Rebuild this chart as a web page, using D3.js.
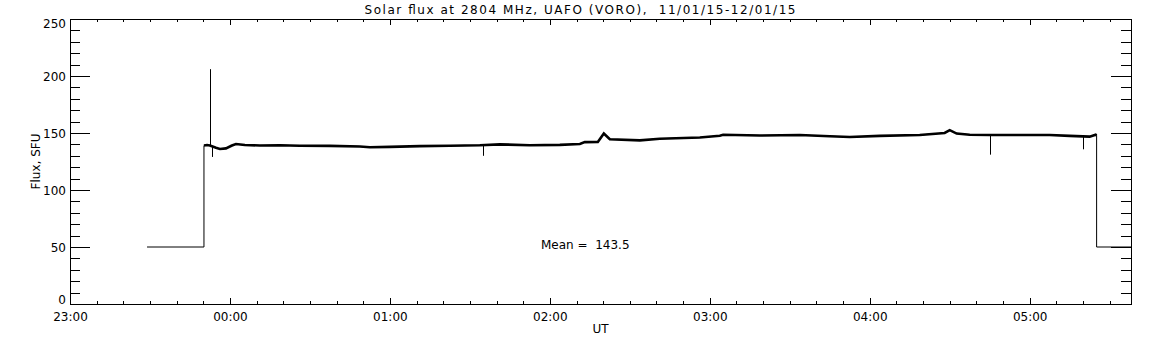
<!DOCTYPE html>
<html>
<head>
<meta charset="utf-8">
<script src="https://cdn.jsdelivr.net/npm/d3@7"></script>
<style>
  body { margin: 0; background: #fff; }
  svg { display: block; font-family: 'DejaVu Sans', sans-serif; }
  .axis path, .axis line { stroke: #000; shape-rendering: crispEdges; }
  .axis text { font-size: 12px; fill: #000; font-family: 'DejaVu Sans', sans-serif; }
</style>
</head>
<body>
<div id="d3-container"></div>
<script>
// minutes after 23:00 UT (11/01/15) and flux in SFU
const minutes = [28.9, 50.25, 50.25, 51.4, 52.5, 54.75, 56.25, 58.5, 60.75, 62.25, 65.6, 71.25,
  78.75, 86.25, 97.5, 108.75, 112.5, 120, 131.25, 142.5, 153.75, 161.25, 172.5, 183.75,
  191.25, 193.1, 198, 200.25, 202.5, 213.75, 221.25, 236.25, 243.75, 245, 258.75, 273.75,
  285, 292.5, 303.75, 318.75, 328.1, 330, 332.6, 337.5, 345, 356.25, 367.5, 375, 379.9,
  382.5, 384.75, 385.1, 385.1, 398]
const flux = [50, 50, 139, 139.5, 139, 137, 136, 136.5, 139, 140.3, 139.5, 139,
  139.2, 138.8, 138.7, 138.2, 137.5, 137.8, 138.5, 138.8, 139.2, 140, 139.3, 139.6,
  140.4, 142, 142.2, 149.5, 144.5, 143.5, 145, 146, 147.6, 148.5, 147.8, 148.2,
  147.2, 146.5, 147.5, 148.3, 150, 152.5, 149.5, 148.5, 148.2, 148.3, 148.2, 147.5, 147,
  146.8, 148.5, 148, 50, 50]

// isolated 1-sample spikes
const spikeMinutes = [52.5, 53.25, 154.9, 345, 379.9]
const spikeFrom = [139, 138, 139, 148.2, 147]
const spikeTo = [206, 129, 130, 131, 135.7]

const meanFlux = 143.5
const yTicks = [0, 50, 100, 150, 200, 250]

const params = {
  width: 1152, height: 345,
  left: 70, right: 1131, top: 19, bottom: 304
}

const t0 = Date.UTC(2015, 0, 11, 23, 0)
const toDate = m => new Date(t0 + m * 60000)

const svg = d3.select('#d3-container')
  .append('svg')
  .attr('width', params.width)
  .attr('height', params.height)

const x = d3.scaleUtc()
  .domain([toDate(0), toDate(398)])
  .range([params.left, params.right])

const y = d3.scaleLinear()
  .domain([0, 250])
  .range([params.bottom, params.top])

// bottom axis: minor + major, ticks pointing inward
svg.append('g')
  .attr('class', 'axis')
  .attr('transform', `translate(0,${params.bottom})`)
  .call(d3.axisBottom(x).ticks(d3.utcMinute.every(10)).tickSize(-3).tickSizeOuter(0).tickFormat(''))
svg.append('g')
  .attr('class', 'axis')
  .attr('transform', `translate(0,${params.bottom})`)
  .call(d3.axisBottom(x).ticks(d3.utcHour.every(1)).tickSize(-6).tickSizeOuter(0)
    .tickPadding(8).tickFormat(d3.utcFormat('%H:%M')))

// top axis
svg.append('g')
  .attr('class', 'axis')
  .attr('transform', `translate(0,${params.top})`)
  .call(d3.axisTop(x).ticks(d3.utcMinute.every(10)).tickSize(-3).tickSizeOuter(0).tickFormat(''))
svg.append('g')
  .attr('class', 'axis')
  .attr('transform', `translate(0,${params.top})`)
  .call(d3.axisTop(x).ticks(d3.utcHour.every(1)).tickSize(-6).tickSizeOuter(0).tickFormat(''))

// left axis
svg.append('g')
  .attr('class', 'axis')
  .attr('transform', `translate(${params.left},0)`)
  .call(d3.axisLeft(y).ticks(25).tickSize(-10).tickSizeOuter(0).tickFormat(''))
const yl = svg.append('g')
  .attr('class', 'axis')
  .attr('transform', `translate(${params.left},0)`)
  .call(d3.axisLeft(y).tickValues(yTicks).tickSize(-20).tickSizeOuter(0).tickPadding(4))
// keep end labels inside the axis range, as IDL does
yl.selectAll('.tick text')
  .attr('dy', d => d === 0 ? '-0.02em' : d === 250 ? '0.72em' : '0.35em')

// right axis
svg.append('g')
  .attr('class', 'axis')
  .attr('transform', `translate(${params.right},0)`)
  .call(d3.axisRight(y).ticks(25).tickSize(-10).tickSizeOuter(0).tickFormat(''))
svg.append('g')
  .attr('class', 'axis')
  .attr('transform', `translate(${params.right},0)`)
  .call(d3.axisRight(y).tickValues(yTicks).tickSize(-20).tickSizeOuter(0).tickFormat(''))

// data
const data = minutes.map((m, i) => ({ t: toDate(m), v: flux[i] }))

const line = d3.line().x(d => x(d.t)).y(d => y(d.v))

svg.append('path')
  .datum(data)
  .attr('fill', 'none')
  .attr('stroke', '#000')
  .attr('stroke-width', 1)
  .attr('d', line)

svg.append('path')
  .datum(data)
  .attr('fill', 'none')
  .attr('stroke', '#000')
  .attr('stroke-width', 2.6)
  .attr('d', line.defined(d => d.v > 100))

svg.append('g')
  .selectAll('line')
  .data(spikeMinutes.map((m, i) => ({ t: toDate(m), a: spikeFrom[i], b: spikeTo[i] })))
  .join('line')
  .attr('x1', d => Math.round(x(d.t)) + 0.5)
  .attr('x2', d => Math.round(x(d.t)) + 0.5)
  .attr('y1', d => y(d.a))
  .attr('y2', d => y(d.b))
  .attr('stroke', '#000')
  .attr('stroke-width', 1)

// text
svg.append('text')
  .attr('x', 580)
  .attr('y', 14)
  .attr('text-anchor', 'middle')
  .attr('font-size', 12)
  .attr('textLength', 431)
  .attr('lengthAdjust', 'spacing')
  .style('white-space', 'pre')
  .text('Solar flux at 2804 MHz, UAFO (VORO),  11/01/15-12/01/15')

svg.append('text')
  .attr('x', (params.left + params.right) / 2)
  .attr('y', 333)
  .attr('text-anchor', 'middle')
  .attr('font-size', 12)
  .text('UT')

svg.append('text')
  .attr('transform', `translate(40,${(params.top + params.bottom) / 2}) rotate(-90)`)
  .attr('text-anchor', 'middle')
  .attr('font-size', 12)
  .text('Flux, SFU')

svg.append('text')
  .attr('x', 541)
  .attr('y', 249)
  .attr('font-size', 12)
  .style('white-space', 'pre')
  .text(`Mean =  ${meanFlux.toFixed(1)}`)
</script>
</body>
</html>
